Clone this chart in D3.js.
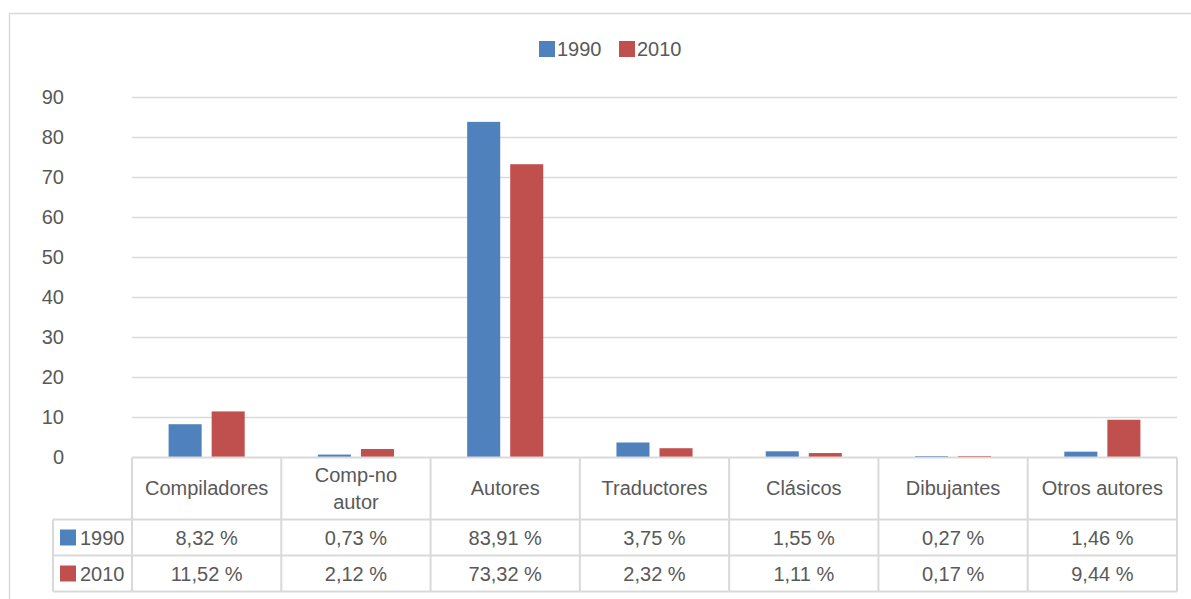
<!DOCTYPE html>
<html>
<head>
<meta charset="utf-8">
<script src="https://cdn.jsdelivr.net/npm/d3@7"></script>
<style>
  body { margin: 0; background: #fff; }
  text { font-family: "Liberation Sans", Arial, sans-serif; fill: #595959; }
</style>
</head>
<body>
<svg id="chart" width="1191" height="599"></svg>
<script>
const categories = ["Compiladores", "Comp-no autor", "Autores", "Traductores", "Clásicos", "Dibujantes", "Otros autores"];
const seriesNames = ["1990", "2010"];
const values1990 = [8.32, 0.73, 83.91, 3.75, 1.55, 0.27, 1.46];
const values2010 = [11.52, 2.12, 73.32, 2.32, 1.11, 0.17, 9.44];
const yTicks = [0, 10, 20, 30, 40, 50, 60, 70, 80, 90];

const colors = { "1990": "#4f81bd", "2010": "#c0504d" };
const grid = "#d9d9d9";
const fs = "20px";
const fmt = v => v.toFixed(2).replace(".", ",") + " %";

const series = [
  { name: "1990", values: values1990 },
  { name: "2010", values: values2010 }
];

const svg = d3.select("#chart");

// chart frame (only left and top edges are visible)
svg.append("rect")
  .attr("x", 9.5).attr("y", 13.5)
  .attr("width", 1200).attr("height", 600)
  .attr("fill", "none").attr("stroke", grid).attr("stroke-width", 1.5);

const plotLeft = 132, plotRight = 1177, plotTop = 97.5, plotBottom = 457.5;

const x = d3.scaleBand().domain(categories).range([plotLeft, plotRight]);
const xs = d3.scaleBand().domain(seriesNames).range([0, x.bandwidth()])
  .paddingInner(10 / 43).paddingOuter(0.85);
const y = d3.scaleLinear().domain([0, 90]).range([plotBottom, plotTop]);

// gridlines
svg.append("g").selectAll("line")
  .data(yTicks.filter(d => d > 0))
  .join("line")
  .attr("x1", plotLeft).attr("x2", plotRight)
  .attr("y1", d => y(d)).attr("y2", d => y(d))
  .attr("stroke", grid).attr("stroke-width", 1.5);

// y axis labels
const yAxis = svg.append("g")
  .attr("transform", "translate(64,0)")
  .call(d3.axisLeft(y).tickValues(yTicks).tickSize(0).tickPadding(0));
yAxis.select(".domain").remove();
yAxis.selectAll("text")
  .style("font-size", fs)
  .attr("fill", "#595959")
  .attr("font-family", "Liberation Sans, Arial, sans-serif");

// bars (tiny values get a minimum visible height, like the original)
series.forEach(s => {
  svg.append("g").selectAll("rect")
    .data(s.values)
    .join("rect")
    .attr("x", (d, i) => x(categories[i]) + xs(s.name))
    .attr("width", xs.bandwidth())
    .attr("y", d => Math.min(y(d), y(0) - 1.5))
    .attr("height", d => Math.max(y(0) - y(d), 1.5))
    .attr("fill", colors[s.name]);
});

// data table
const row1 = 519.5, row2 = 555.5, row3 = 591.5, tableLeft = 53;
const tbl = svg.append("g").attr("stroke", grid).attr("stroke-width", 2);
tbl.append("line").attr("x1", plotLeft).attr("x2", plotRight).attr("y1", plotBottom).attr("y2", plotBottom);
[row1, row2, row3].forEach(r => {
  tbl.append("line").attr("x1", tableLeft).attr("x2", plotRight).attr("y1", r).attr("y2", r);
});
tbl.append("line").attr("x1", tableLeft).attr("x2", tableLeft).attr("y1", row1).attr("y2", row3);
tbl.selectAll(".vline")
  .data(categories.map(c => x(c)).concat([plotRight]))
  .join("line")
  .attr("x1", d => d).attr("x2", d => d)
  .attr("y1", plotBottom).attr("y2", row3);

// category labels
svg.append("g").selectAll("text")
  .data(categories)
  .join("text")
  .attr("text-anchor", "middle")
  .style("font-size", fs)
  .each(function (d) {
    const cx = x(d) + x.bandwidth() / 2;
    const t = d3.select(this);
    if (d === "Comp-no autor") {
      t.append("tspan").attr("x", cx).attr("y", 482).text("Comp-no");
      t.append("tspan").attr("x", cx).attr("y", 509).text("autor");
    } else {
      t.attr("x", cx).attr("y", 495).text(d);
    }
  });

// value rows
const rowBounds = [[row1, row2], [row2, row3]];
series.forEach((s, si) => {
  const cy = (rowBounds[si][0] + rowBounds[si][1]) / 2;
  svg.append("g").selectAll("text")
    .data(s.values)
    .join("text")
    .attr("x", (d, i) => x(categories[i]) + x.bandwidth() / 2)
    .attr("y", cy + 7)
    .attr("text-anchor", "middle")
    .style("font-size", fs)
    .text(d => fmt(d));
  svg.append("rect")
    .attr("x", 60).attr("y", cy - 8).attr("width", 16).attr("height", 16)
    .attr("fill", colors[s.name]);
  svg.append("text")
    .attr("x", 80).attr("y", cy + 7)
    .style("font-size", fs)
    .text(s.name);
});

// legend
const legend = svg.append("g");
[{ name: "1990", x: 539 }, { name: "2010", x: 619 }].forEach(l => {
  legend.append("rect").attr("x", l.x).attr("y", 41).attr("width", 16).attr("height", 16)
    .attr("fill", colors[l.name]);
  legend.append("text").attr("x", l.x + 18).attr("y", 56)
    .style("font-size", fs).text(l.name);
});
</script>
</body>
</html>
